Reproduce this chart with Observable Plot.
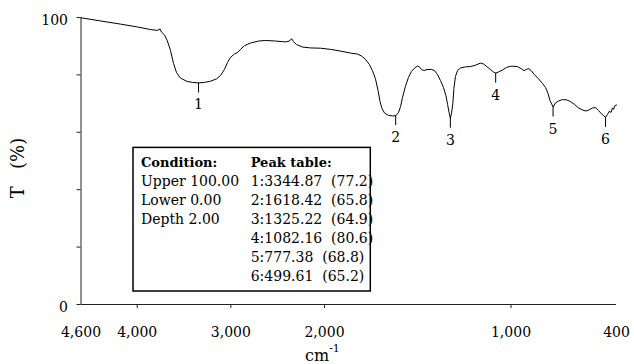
<!DOCTYPE html>
<html>
<head>
<meta charset="utf-8">
<script src="https://cdn.jsdelivr.net/npm/d3@7"></script>
<script src="https://cdn.jsdelivr.net/npm/@observablehq/plot@0.6"></script>
<style>
  html, body { margin: 0; padding: 0; background: white; }
  #chart { position: relative; width: 634px; height: 364px; overflow: hidden; }
  #chart svg { position: absolute; left: 0; top: 0; }
</style>
</head>
<body>
<div id="chart"></div>
<script>
// ---- data ----
const wavenumbers = [
  4600, 4392, 4178, 3997, 3858, 3783, 3756, 3740, 3708, 3680, 3644, 3612, 3580, 3538, 3466, 3409, 3345, 3281, 3217, 3153,
  3110, 3068, 3036, 3004, 2961, 2929, 2897, 2854, 2790, 2705, 2630, 2523, 2416, 2374, 2352, 2331, 2299, 2235, 2149, 2043,
  1968, 1914, 1861, 1825, 1802, 1780, 1759, 1743, 1727, 1713, 1702, 1692, 1678, 1657, 1635, 1618, 1603, 1592, 1582, 1566,
  1550, 1534, 1517, 1501, 1491, 1480, 1466, 1450, 1426, 1410, 1394, 1378, 1362, 1349, 1340, 1332, 1325, 1319, 1312, 1306,
  1298, 1287, 1271, 1244, 1217, 1190, 1164, 1147, 1128, 1110, 1094, 1082, 1067, 1046, 1024, 1003, 985, 966, 944, 932,
  918, 906, 892, 876, 854, 833, 817, 804, 794, 777, 765, 749, 728, 706, 685, 664, 643, 622, 603, 585,
  569, 553, 537, 521, 511, 500, 482, 464, 450, 436, 427, 414, 400
];
const transmittance = [
  99.9, 98.8, 97.7, 96.7, 95.8, 95.5, 96.0, 94.9, 93.9, 92.0, 88.5, 84.0, 80.8, 78.9, 77.7, 77.4, 77.2, 77.4, 77.8, 78.6,
  79.8, 81.9, 84.3, 86.1, 87.3, 87.8, 88.9, 90.2, 91.1, 91.8, 92.0, 91.8, 91.5, 91.8, 92.6, 91.6, 90.6, 89.7, 89.4, 89.3,
  88.9, 88.3, 87.6, 87.3, 86.6, 85.4, 83.6, 81.5, 78.7, 74.6, 70.7, 68.3, 66.7, 65.9, 65.7, 65.8, 66.9, 69.0, 72.1, 76.0,
  79.1, 81.2, 82.4, 83.1, 82.8, 81.9, 81.5, 81.9, 81.9, 81.5, 80.1, 78.0, 75.6, 72.8, 69.7, 66.9, 64.9, 66.6, 70.0, 75.3,
  79.4, 81.5, 82.4, 82.8, 82.9, 83.4, 84.1, 83.8, 82.8, 81.9, 81.0, 80.6, 81.0, 81.7, 82.6, 83.0, 83.0, 82.9, 82.1, 81.5,
  81.9, 82.2, 81.4, 80.1, 78.6, 77.0, 75.6, 73.5, 71.1, 68.8, 70.2, 70.9, 71.4, 71.3, 70.7, 69.7, 68.5, 67.8, 67.4, 67.9,
  68.5, 68.6, 67.6, 66.4, 65.9, 65.2, 66.2, 67.4, 66.9, 68.5, 68.0, 69.3, 69.5
];
const peakWavenumbers = [3344.87, 1618.42, 1325.22, 1082.16, 777.38, 499.61];
const peakTransmittance = [77.2, 65.8, 64.9, 80.6, 68.8, 65.2];
const conditionLines = ["Upper 100.00", "Lower 0.00", "Depth 2.00"];
const xTickValues = [4600, 4000, 3000, 2000, 1000, 400];
const xTickMarks = [4000, 3000, 2000, 1000];
const yTickMarks = [0, 20, 40, 60, 80, 100];
const yTickLabels = [0, 100];

// ---- tables built from the arrays ----
const curve = wavenumbers.map((w, i) => ({wn: w, T: transmittance[i]}));
const peaks = peakWavenumbers.map((w, i) => ({wn: w, T: peakTransmittance[i], label: String(i + 1)}));

// the instrument's wavenumber axis is compressed above 2000 cm-1 (piecewise-linear)
const axisWarp = d3.scaleLinear()
  .domain([4600, 2000, 1000, 500, 400])
  .range([0, 243.5, 430, 524.5, 535.5]);

const FONT = "'DejaVu Serif', serif";
const fmt = d3.format(",");

const plot = Plot.plot({
  width: 634,
  height: 364,
  marginLeft: 80.5,
  marginRight: 18,
  marginTop: 17,
  marginBottom: 60,
  style: {fontFamily: FONT, fontSize: "14px", color: "black", background: "transparent", overflow: "visible"},
  x: {transform: axisWarp, domain: [0, 535.5], axis: null},
  y: {domain: [0, 100]},
  marks: [
    // x axis: ticks below the baseline and labels (drawn through the warped x scale)
    Plot.ruleX(xTickMarks, {x: d => d, y1: 0, y2: -1.4, stroke: "#222", strokeWidth: 1}),
    Plot.text(xTickValues, {x: d => d, y: 0, dy: 27.7, text: d => fmt(d), fontSize: 14, fill: "black"}),
    Plot.axisY({ticks: yTickMarks, tickSize: 4, tickFormat: () => "", label: null, stroke: "#222"}),
    Plot.axisY({ticks: yTickLabels, tickSize: 0, tickPadding: 13, dy: 3.5, label: null, fill: "black"}),
    Plot.ruleY([0], {stroke: "#222", strokeWidth: 1}),
    Plot.ruleX([4600], {y1: 0, y2: 100, stroke: "#222", strokeWidth: 1}),
    Plot.line(curve, {x: "wn", y: "T", stroke: "black", strokeWidth: 1}),
    Plot.ruleX(peaks, {x: "wn", y1: "T", y2: d => d.T - 3.5, stroke: "black", strokeWidth: 1}),
    Plot.text(peaks, {x: "wn", y: "T", text: "label", dy: 22, fontSize: 14, fill: "black"})
  ]
});

const chart = document.getElementById("chart");
chart.appendChild(plot);

const svg = d3.select(plot);
// y axis label
svg.append("text")
  .attr("transform", "translate(18,168) rotate(-90)")
  .attr("text-anchor", "middle").attr("dy", "0.35em")
  .attr("font-family", FONT).attr("font-size", 18).attr("fill", "black")
  .attr("xml:space", "preserve").style("white-space", "pre")
  .text("T   (%)");
// x axis label with superscript
const xl = svg.append("text")
  .attr("x", 305).attr("y", 361).attr("text-anchor", "start")
  .attr("font-family", FONT).attr("font-size", 16).attr("fill", "black");
xl.append("tspan").text("cm");
xl.append("tspan").attr("font-size", 11).attr("dy", -9).text("-1");

// condition / peak table box
const box = d3.select(chart).append("svg")
  .attr("width", 634).attr("height", 364)
  .style("font-family", FONT);
box.append("rect")
  .attr("x", 133).attr("y", 147.4).attr("width", 237.3).attr("height", 143.6)
  .attr("fill", "white").attr("stroke", "black").attr("stroke-width", 1.5);
box.append("text").attr("x", 141).attr("y", 166.7)
  .attr("font-size", 13).attr("font-weight", "bold").text("Condition:");
box.append("text").attr("x", 250.7).attr("y", 166.7)
  .attr("font-size", 13).attr("font-weight", "bold").text("Peak table:");
conditionLines.forEach((s, i) => {
  box.append("text").attr("x", 141).attr("y", 186 + 19 * i)
    .attr("font-size", 14).text(s);
});
peaks.forEach((p, i) => {
  box.append("text").attr("x", 250.7).attr("y", 186 + 19 * i)
    .attr("font-size", 14).attr("xml:space", "preserve").style("white-space", "pre")
    .text(`${p.label}:${p.wn.toFixed(2)}  (${p.T.toFixed(1)})`);
});
</script>
</body>
</html>
